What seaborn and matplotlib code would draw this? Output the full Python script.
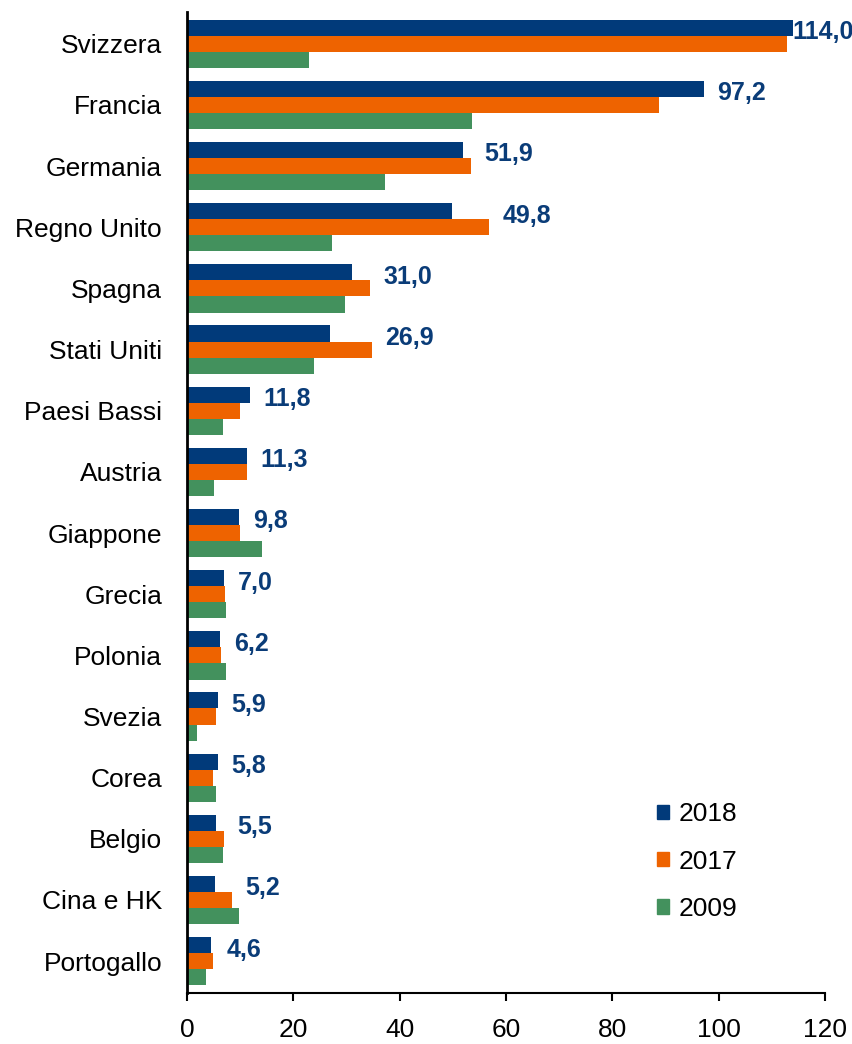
import pandas as pd
import matplotlib
matplotlib.use('Agg')
import matplotlib.pyplot as plt
import seaborn as sns
from matplotlib.patches import Patch

countries = ['Svizzera', 'Francia', 'Germania', 'Regno Unito', 'Spagna',
             'Stati Uniti', 'Paesi Bassi', 'Austria', 'Giappone', 'Grecia',
             'Polonia', 'Svezia', 'Corea', 'Belgio', 'Cina e HK', 'Portogallo']
v2018 = [114.0, 97.2, 51.9, 49.8, 31.0, 26.9, 11.8, 11.3, 9.8, 7.0,
         6.2, 5.9, 5.8, 5.5, 5.2, 4.6]
v2017 = [112.8, 88.8, 53.4, 56.8, 34.4, 34.8, 10.0, 11.3, 10.0, 7.1,
         6.4, 5.5, 4.9, 6.9, 8.5, 4.9]
v2009 = [22.9, 53.6, 37.2, 27.3, 29.7, 23.9, 6.8, 5.1, 14.1, 7.3,
         7.3, 1.9, 5.5, 6.8, 9.8, 3.6]
years = ['2018', '2017', '2009']
colors = ['#013A7A', '#EE6300', '#43915D']
x_ticks = [0, 20, 40, 60, 80, 100, 120]


def build_frame():
    rows = []
    for year, vals in zip(years, [v2018, v2017, v2009]):
        for c, v in zip(countries, vals):
            rows.append({'paese': c, 'anno': year, 'valore': v})
    return pd.DataFrame(rows)


def main():
    sns.set_style('white')
    plt.rcParams['font.family'] = ['Liberation Sans', 'DejaVu Sans']
    plt.rcParams['text.color'] = 'black'

    df = build_frame()
    fig = plt.figure(figsize=(8.52, 10.44), dpi=100)
    ax = fig.add_axes([0.2195, 0.0489, 0.7488, 0.9396])

    sns.barplot(data=df, y='paese', x='valore', hue='anno', orient='h',
                hue_order=years, palette=colors, width=0.79, saturation=1,
                linewidth=0, legend=False, ax=ax)

    # etichette sui valori 2018 (la prima resta dentro il bordo)
    for i, (a, b) in enumerate(zip(v2018, v2017)):
        x = min(max(a, b) + 2.5, 113.9)
        ax.text(x, i - 0.19, f'{a:.1f}'.replace('.', ','),
                color='#0A3C78', fontsize=18, fontweight='bold',
                va='center', ha='left', clip_on=False)

    ax.set_xlim(0, 120)
    ax.set_ylim(15.52, -0.52)
    ax.set_xticks(x_ticks)
    ax.set_xlabel('')
    ax.set_ylabel('')
    ax.tick_params(axis='x', labelsize=19, length=6, width=1.5,
                   direction='out', pad=12, colors='black', bottom=True)
    ax.tick_params(axis='y', labelsize=19, length=0, pad=18, colors='black')
    for s in ['top', 'right']:
        ax.spines[s].set_visible(False)
    ax.spines['left'].set_linewidth(2)
    ax.spines['left'].set_color('black')
    ax.spines['bottom'].set_linewidth(1.5)
    ax.spines['bottom'].set_color('black')

    handles = [Patch(color=c, label=y) for c, y in zip(colors, years)]
    fig.legend(handles=handles, loc='upper left',
               bbox_to_anchor=(0.756, 0.244), frameon=False, fontsize=19,
               handlelength=0.45, handleheight=0.45, handletextpad=0.35,
               labelspacing=0.88, borderpad=0, labelcolor='black')

    fig.savefig('out.png', dpi=100)


if __name__ == '__main__':
    main()
